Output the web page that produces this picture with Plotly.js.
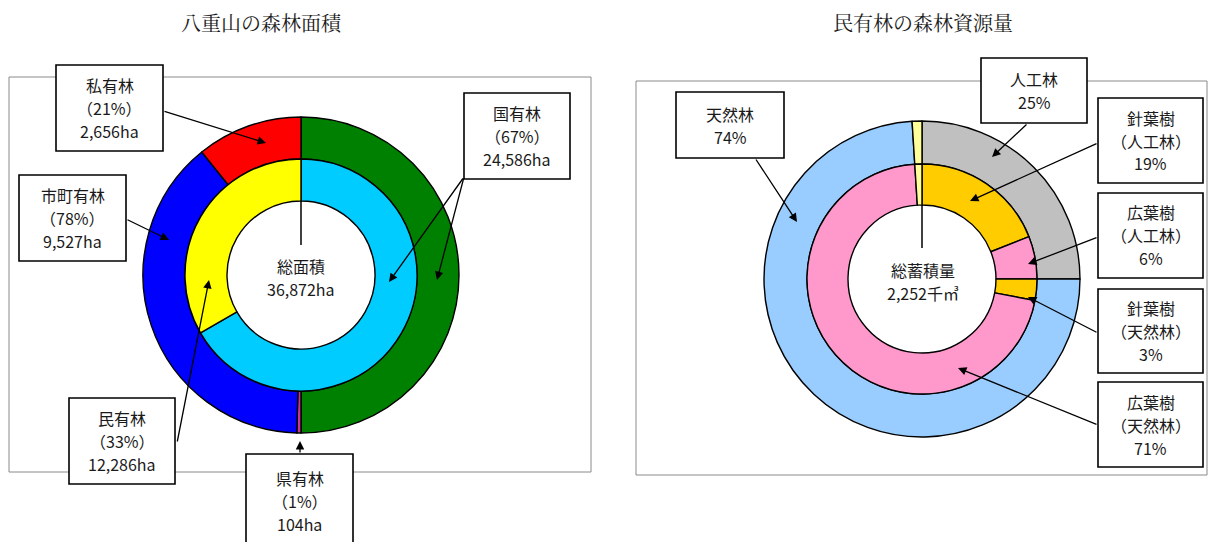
<!DOCTYPE html>
<html>
<head>
<meta charset="utf-8">
<script src="https://cdn.plot.ly/plotly-3.0.1.min.js"></script>
<style>html,body{margin:0;padding:0;background:#fff;}#chart{width:1209px;height:542px;}</style>
</head>
<body>
<div id="chart"></div>
<script>
// ---------- data ----------
// 八重山の森林面積 (ha)
const areaInnerLabels = ['国有林', '民有林'];
const areaInnerValues = [24586, 12286];
// outer ring as drawn: 国有林 occupies half of the ring, 民有林 breakdown the other half
const areaOuterLabels = ['国有林', '県有林', '市町有林', '私有林'];
const areaOuterValues = [12287, 104, 9527, 2656];
const areaCenter = ['総面積', '36,872ha'];

// 民有林の森林資源量 (%)
const stockOuterLabels = ['人工林', '天然林', 'その他'];
const stockOuterValues = [25, 74, 1];
const stockInnerLabels = ['針葉樹（人工林）', '広葉樹（人工林）', '針葉樹（天然林）', '広葉樹（天然林）', 'その他'];
const stockInnerValues = [19, 6, 3, 71, 1];
const stockCenter = ['総蓄積量', '2,252千㎥'];

// label texts (one entry per line)
const boxPrivate = ['私有林', '（21%）', '2,656ha'];
const boxMunicipal = ['市町有林', '（78%）', '9,527ha'];
const boxMinyu = ['民有林', '（33%）', '12,286ha'];
const boxPref = ['県有林', '（1%）', '104ha'];
const boxNational = ['国有林', '（67%）', '24,586ha'];
const boxPlanted = ['人工林', '25%'];
const boxNatural = ['天然林', '74%'];
const boxConPlanted = ['針葉樹', '（人工林）', '19%'];
const boxBroadPlanted = ['広葉樹', '（人工林）', '6%'];
const boxConNatural = ['針葉樹', '（天然林）', '3%'];
const boxBroadNatural = ['広葉樹', '（天然林）', '71%'];
const titles = ['八重山の森林面積', '民有林の森林資源量'];

// ---------- layout helpers ----------
const W = 1209, H = 542;
const FONT = '"Noto Sans CJK JP", "Noto Sans", sans-serif';
const TFONT = '"Noto Serif CJK JP", "Noto Sans CJK JP", serif';
const LINE_GAP = 23;
const px = x => x / W;
const py = y => 1 - y / H;
function dom(cx, cy, r) { return {x: [(cx - r) / W, (cx + r) / W], y: [1 - (cy + r) / H, 1 - (cy - r) / H]}; }
const sliceLine = {color: '#000', width: 1.4};

function ring(labels, values, colors, cx, cy, r, hole) {
  return {type: 'pie', labels, values, sort: false, direction: 'clockwise', rotation: 0,
    hole, domain: dom(cx, cy, r), textinfo: 'none', hoverinfo: 'none', showlegend: false,
    marker: {colors, line: sliceLine}};
}
const annotations = [];
const shapes = [];
function label(x, y, text, size, fam) {
  annotations.push({x: px(x), y: py(y), xref: 'paper', yref: 'paper', xanchor: 'center', yanchor: 'middle',
    text, showarrow: false, font: {family: fam || FONT, size, color: '#1a1a1a'}});
}
function lines(cx, cy, arr, size) {
  const n = arr.length;
  arr.forEach((t, i) => label(cx, cy + (i - (n - 1) / 2) * LINE_GAP, t, size || 16));
}
function box(x0, y0, x1, y1, arr) {
  shapes.push({type: 'rect', xref: 'paper', yref: 'paper', x0: px(x0), x1: px(x1), y0: py(y1), y1: py(y0),
    fillcolor: '#fff', line: {color: '#000', width: 1.6}, layer: 'above'});
  lines((x0 + x1) / 2, (y0 + y1) / 2, arr);
}
function arrow(x0, y0, x1, y1) {
  annotations.push({x: px(x1), y: py(y1), xref: 'paper', yref: 'paper', ax: x0 - x1, ay: y0 - y1,
    axref: 'pixel', ayref: 'pixel', text: '', showarrow: true, arrowhead: 2, arrowsize: 1.3,
    arrowwidth: 1.3, arrowcolor: '#000', standoff: 0, startstandoff: 0});
}

// geometry
const L = {cx: 301, cy: 275, R: 158, r: 116, h: 74};
const Rt = {cx: 922, cy: 279, R: 158, r: 115, h: 74};

const data = [
  ring(areaOuterLabels, areaOuterValues, ['#008000', '#CC3399', '#0000FF', '#FF0000'], L.cx, L.cy, L.R, L.r / L.R),
  ring(areaInnerLabels, areaInnerValues, ['#00CCFF', '#FFFF00'], L.cx, L.cy, L.r, L.h / L.r),
  ring(stockOuterLabels, stockOuterValues, ['#C0C0C0', '#99CCFF', '#FFFF99'], Rt.cx, Rt.cy, Rt.R, Rt.r / Rt.R),
  ring(stockInnerLabels, stockInnerValues, ['#FFCC00', '#FF99CC', '#FFCC00', '#FF99CC', '#FFFF99'], Rt.cx, Rt.cy, Rt.r, Rt.h / Rt.r)
];

// frames
shapes.push({type: 'rect', xref: 'paper', yref: 'paper', x0: px(9), x1: px(591), y0: py(472), y1: py(77),
  line: {color: '#8a8a8a', width: 1}, layer: 'below'});
shapes.push({type: 'rect', xref: 'paper', yref: 'paper', x0: px(636), x1: px(1207), y0: py(475), y1: py(81),
  line: {color: '#8a8a8a', width: 1}, layer: 'below'});
// centre marker lines
shapes.push({type: 'line', xref: 'paper', yref: 'paper', x0: px(L.cx), x1: px(L.cx), y0: py(L.cy - L.h), y1: py(L.cy - 30),
  line: {color: '#000', width: 1.5}, layer: 'above'});
shapes.push({type: 'line', xref: 'paper', yref: 'paper', x0: px(Rt.cx), x1: px(Rt.cx), y0: py(Rt.cy - Rt.h), y1: py(Rt.cy - 31),
  line: {color: '#000', width: 1.5}, layer: 'above'});

// titles
label(262, 22, titles[0], 20, TFONT);
label(923, 22, titles[1], 20, TFONT);
// centre texts
lines(L.cx, L.cy + 2, areaCenter, 16);
lines(Rt.cx + 1, Rt.cy + 2, stockCenter, 16);

// label boxes
box(56, 65, 163, 151, boxPrivate);
box(19, 175, 126, 261, boxMunicipal);
box(69, 398, 175, 484, boxMinyu);
box(246, 454, 353, 548, boxPref);
box(464, 93, 570, 179, boxNational);
box(981, 58, 1087, 123, boxPlanted);
box(676, 92, 784, 158, boxNatural);
box(1098, 98, 1203, 183, boxConPlanted);
box(1098, 193, 1203, 278, boxBroadPlanted);
box(1098, 289, 1203, 373, boxConNatural);
box(1098, 382, 1203, 467, boxBroadNatural);

// arrows
arrow(163, 111, 266, 143);
arrow(126, 219, 169, 240);
arrow(177, 443, 209, 280);
arrow(300, 454, 300, 441);
arrow(464, 177, 389, 282);
arrow(464, 177, 437, 280);
arrow(1028, 123, 992, 157);
arrow(755, 158, 797, 222);
arrow(1098, 143, 970, 201);
arrow(1098, 237, 1028, 264);
arrow(1098, 333, 1028, 297);
arrow(1098, 425, 958, 368);

const layout = {
  width: W, height: H, margin: {l: 0, r: 0, t: 0, b: 0},
  paper_bgcolor: '#fff', plot_bgcolor: '#fff', showlegend: false,
  annotations, shapes
};
Plotly.newPlot('chart', data, layout, {displayModeBar: false, staticPlot: true});
</script>
</body>
</html>
